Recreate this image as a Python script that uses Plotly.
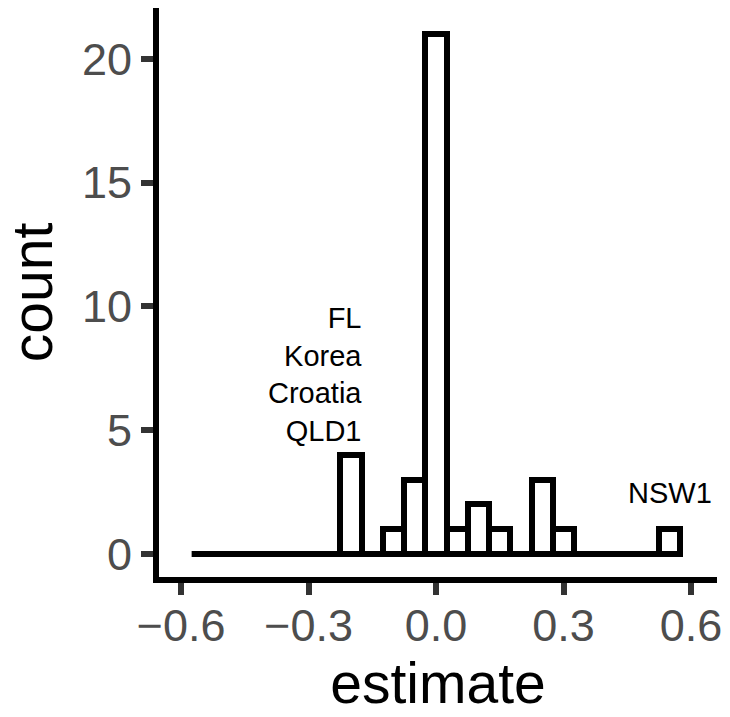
import plotly.graph_objects as go

# ---- data ----
bin_width = 0.05
bin_centers = [-0.55, -0.50, -0.45, -0.40, -0.35, -0.30, -0.25, -0.20, -0.15, -0.10, -0.05,
               0.00, 0.05, 0.10, 0.15, 0.20, 0.25, 0.30, 0.35, 0.40, 0.45, 0.50, 0.55]
bin_counts = [0, 0, 0, 0, 0, 0, 0, 4, 0, 1, 3,
              21, 1, 2, 1, 0, 3, 1, 0, 0, 0, 0, 1]

x_tick_vals = [-0.6, -0.3, 0.0, 0.3, 0.6]
x_tick_text = ["\u22120.6", "\u22120.3", "0.0", "0.3", "0.6"]
y_tick_vals = [0, 5, 10, 15, 20]
y_tick_text = ["0", "5", "10", "15", "20"]

left_label_lines = ["FL", "Korea", "Croatia", "QLD1"]
left_label_bin = -0.20
right_label_lines = ["NSW1"]
right_label_bin = 0.55

FONT = "Liberation Sans, Arial, sans-serif"

fig = go.Figure()

fig.add_trace(go.Bar(
    x=bin_centers, y=bin_counts, width=bin_width,
    marker=dict(color="white", line=dict(color="black", width=6)),
    showlegend=False, hoverinfo="skip",
))

# zero-count bins drawn as a flat outline along the baseline (as ggplot does)
edge_lo = bin_centers[0] - bin_width / 2
edge_hi = bin_centers[-1] + bin_width / 2
fig.add_trace(go.Scatter(
    x=[edge_lo, edge_hi], y=[0, 0], mode="lines",
    line=dict(color="black", width=6),
    showlegend=False, hoverinfo="skip",
))

i_left = bin_centers.index(left_label_bin)
i_right = bin_centers.index(right_label_bin)

fig.add_annotation(
    x=left_label_bin + bin_width / 2, y=bin_counts[i_left],
    xref="x", yref="y", text="<br>".join(left_label_lines),
    showarrow=False, xanchor="right", yanchor="bottom", align="right",
    yshift=6, xshift=2,
    font=dict(family=FONT, size=29, color="black"),
)
fig.add_annotation(
    x=right_label_bin, y=bin_counts[i_right],
    xref="x", yref="y", text="<br>".join(right_label_lines),
    showarrow=False, xanchor="center", yanchor="bottom", align="center",
    yshift=18,
    font=dict(family=FONT, size=29, color="black"),
)

fig.update_layout(
    width=730, height=717,
    margin=dict(l=159, r=10, t=8, b=140),
    paper_bgcolor="white", plot_bgcolor="white",
    font=dict(family=FONT),
    bargap=0,
)

fig.update_xaxes(
    range=[-0.6518, 0.6611],
    showgrid=False, zeroline=False,
    showline=True, linecolor="black", linewidth=6,
    ticks="outside", ticklen=12, tickwidth=6, tickcolor="#333333",
    tickvals=x_tick_vals, ticktext=x_tick_text,
    tickfont=dict(family=FONT, size=45, color="#4D4D4D"),
    ticklabelstandoff=-8,
    title=dict(text="estimate", font=dict(family=FONT, size=57, color="black"), standoff=8),
)
fig.update_yaxes(
    range=[-0.929, 22.05],
    showgrid=False, zeroline=False,
    showline=True, linecolor="black", linewidth=6,
    ticks="outside", ticklen=12, tickwidth=6, tickcolor="#333333",
    tickvals=y_tick_vals, ticktext=y_tick_text,
    tickfont=dict(family=FONT, size=45, color="#4D4D4D"),
    title=dict(text="count", font=dict(family=FONT, size=57, color="black"), standoff=15),
)

fig.write_html(
    "out.html",
    config={"displayModeBar": False},
    post_script="document.body.style.margin='0px';document.body.style.padding='0px';",
)
